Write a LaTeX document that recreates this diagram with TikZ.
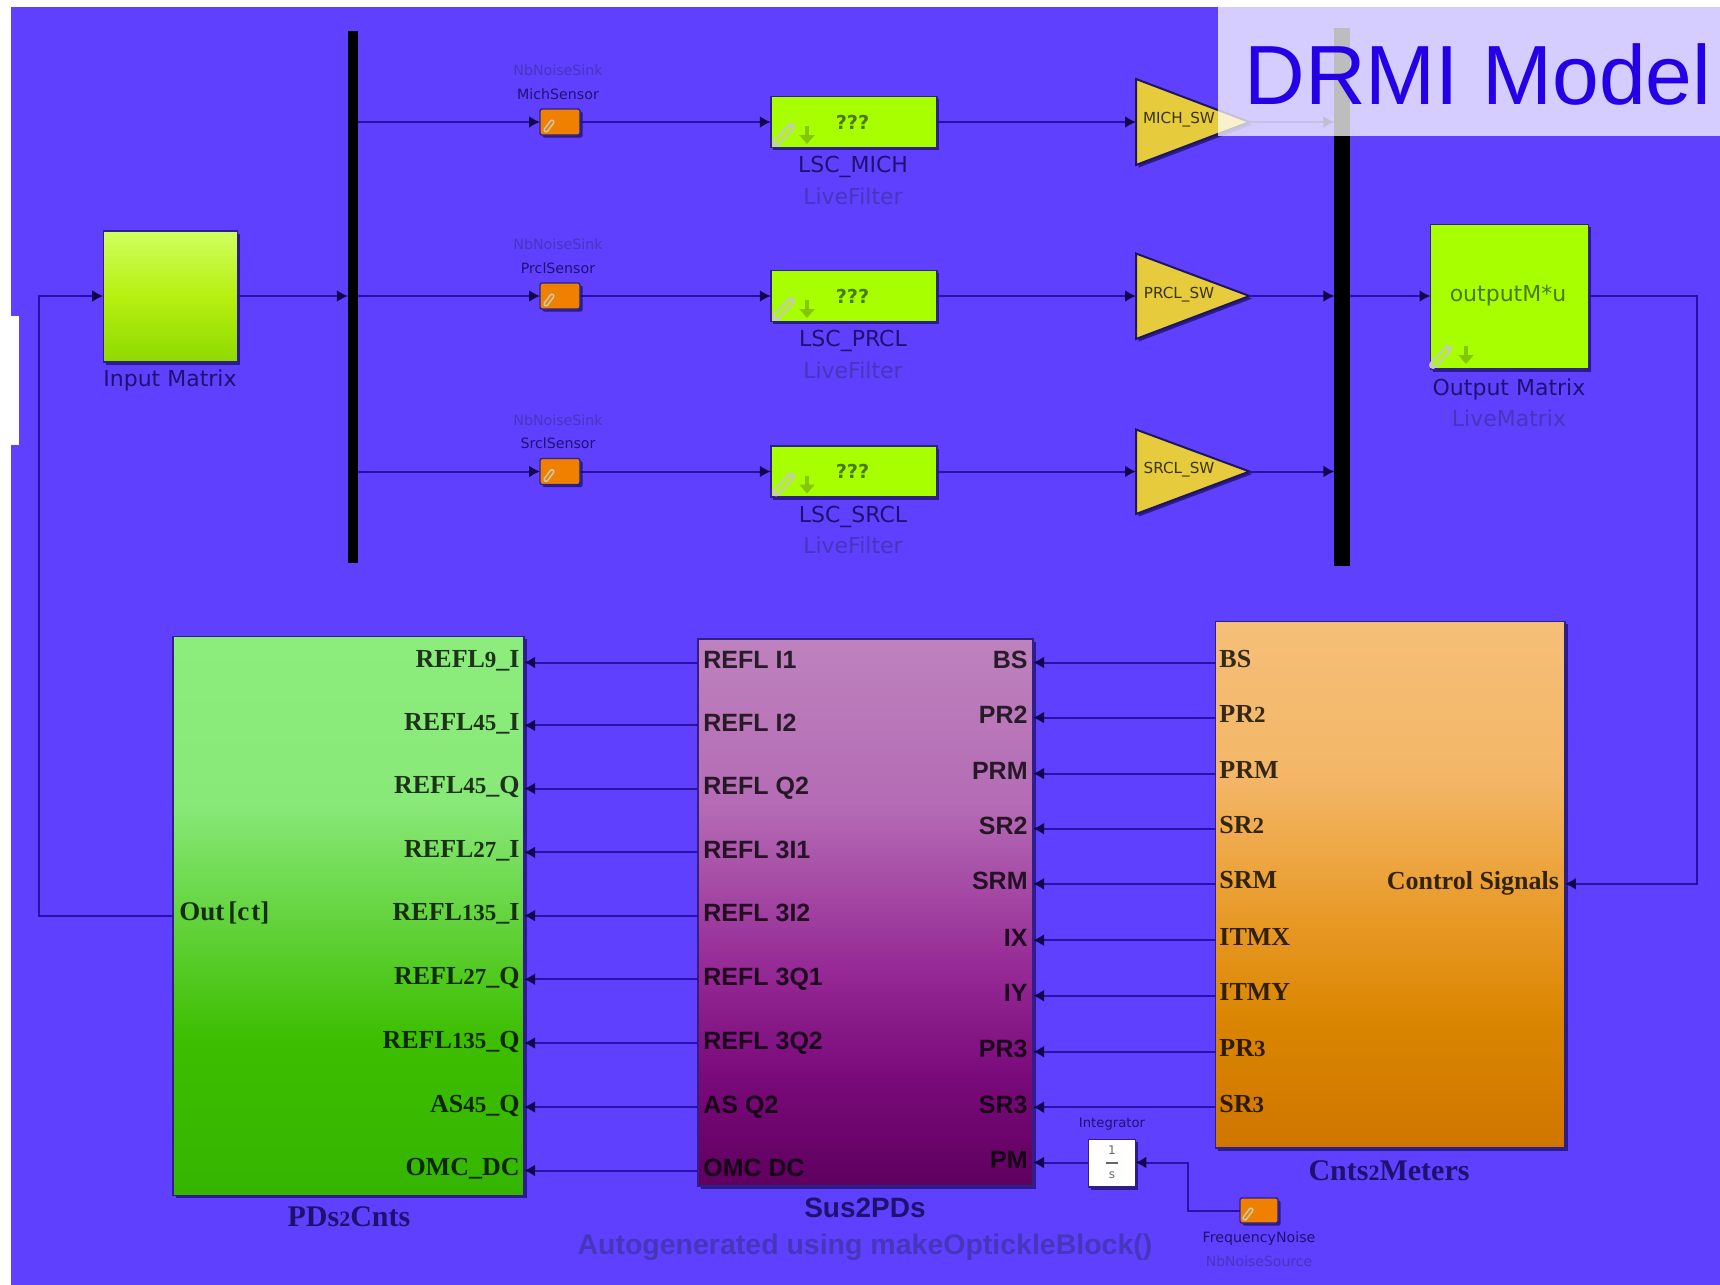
\documentclass[tikz,border=0pt]{standalone}
\usepackage{fontspec}
\usetikzlibrary{arrows.meta,shadows,calc}
\setmainfont{Liberation Serif}
\newfontfamily\djv{DejaVu Sans}
\newfontfamily\lsans{Liberation Sans}
\newcommand{\fsz}[1]{\fontsize{#1}{#1}\selectfont}
\newcommand{\od}[1]{{\fontsize{11.5}{11.5}\selectfont #1}}
\newcommand{\odb}[1]{{\fontsize{11}{11}\selectfont #1}}
\definecolor{bgblue}{HTML}{6040FF}
\definecolor{wire}{HTML}{2A10A4}
\definecolor{headc}{HTML}{120650}
\definecolor{edgec}{HTML}{2E2088}
\definecolor{limeb}{HTML}{A8FF00}
\definecolor{orangeb}{HTML}{F08000}
\definecolor{triy}{HTML}{E6CB3C}
\definecolor{olive}{HTML}{4A7A00}
\definecolor{dimtxt}{HTML}{4636BC}
\definecolor{navy}{HTML}{1E1270}
\definecolor{titleb}{HTML}{2400E6}
\definecolor{clipc}{HTML}{C6CCB4}
\definecolor{ga}{HTML}{35B500}\definecolor{gb}{HTML}{3DBE00}\definecolor{gc}{HTML}{88E878}\definecolor{gd}{HTML}{8CEC7C}
\definecolor{pa}{HTML}{5F005F}\definecolor{pb}{HTML}{7A0A7A}\definecolor{pc}{HTML}{962A96}\definecolor{pd}{HTML}{B46CB4}\definecolor{pe}{HTML}{BE82BE}
\definecolor{oa}{HTML}{CF7600}\definecolor{ob}{HTML}{DA8500}\definecolor{oc}{HTML}{E89A28}\definecolor{od}{HTML}{F3B666}\definecolor{oe}{HTML}{F5BF78}
\definecolor{ia}{HTML}{8FD900}\definecolor{ib}{HTML}{B6F010}\definecolor{ic}{HTML}{CFFF60}
\pgfdeclareverticalshading{greenS}{100bp}{color(0bp)=(ga);color(25bp)=(ga);color(39bp)=(gb);color(60bp)=(gc);color(75bp)=(gd);color(100bp)=(gd)}
\pgfdeclareverticalshading{purpleS}{100bp}{color(0bp)=(pa);color(25bp)=(pa);color(35bp)=(pb);color(45bp)=(pc);color(60bp)=(pd);color(75bp)=(pe);color(100bp)=(pe)}
\pgfdeclareverticalshading{orangeS}{100bp}{color(0bp)=(oa);color(25bp)=(oa);color(37bp)=(ob);color(47bp)=(oc);color(60bp)=(od);color(75bp)=(oe);color(100bp)=(oe)}
\pgfdeclareverticalshading{inputS}{100bp}{color(0bp)=(ia);color(25bp)=(ia);color(50bp)=(ib);color(75bp)=(ic);color(100bp)=(ic)}
\tikzset{
  x=0.5pt,y=-0.5pt,
  sh/.style={drop shadow={shadow xshift=1.3pt,shadow yshift=-1.3pt,fill=navy,opacity=.8}},
  blockb/.style={draw=edgec,line width=.7pt,inner sep=0pt,outer sep=0pt,sh},
  limeblock/.style={blockb,fill=limeb},
  orangebox/.style={blockb,fill=orangeb,rounded corners=1pt,minimum width=20pt,minimum height=13pt},
  busbar/.style={fill=black,inner sep=0pt,outer sep=0pt},
  w/.style={draw=wire,line width=1pt},
  wa/.style={w,-{Latex[length=5.5pt,width=6pt,color=headc]}},
  namelbl/.style={font=\djv\fsz{11},text=navy,inner sep=0pt},
  typelbl/.style={font=\djv\fsz{11},text=dimtxt,inner sep=0pt},
  tinyname/.style={font=\djv\fsz{7.1},text=navy,inner sep=0pt},
  tinytype/.style={font=\djv\fsz{7.1},text=dimtxt,inner sep=0pt},
  qq/.style={font=\djv\bfseries\fsz{9.6},text=olive,inner sep=0pt},
  swl/.style={font=\djv\fsz{7.6},text=black!75!triy,inner sep=0pt},
  tri/.style={draw=edgec!70!black,fill=triy,line width=1pt,sh},
  serifp/.style={font=\bfseries\fsz{13},text=black,text opacity=.78,inner sep=0pt},
  sansp/.style={font=\lsans\bfseries\fsz{12.5},text=black,text opacity=.78,inner sep=0pt},
  bigserif/.style={font=\bfseries\fsz{15},text=navy,inner sep=0pt},
}
\newcommand{\pclip}[3]{%
  \draw[line cap=round,line width=4pt,draw=clipc] (#1-8,#2+8) -- (#1+7,#2-8);
  \draw[line cap=round,line width=1.6pt,draw=#3] (#1-7,#2+7) -- (#1+6,#2-7);
}
\newcommand{\oclip}[2]{%
  \draw[line cap=round,line width=2.6pt,draw=clipc] (#1-3,#2+4) -- (#1+3,#2-4);
  \draw[line cap=round,line width=1pt,draw=orangeb] (#1-3,#2+4) -- (#1+3,#2-4);
}
\newcommand{\darr}[2]{%
  \draw[draw=limeb!78!black,line width=2pt,-{Triangle[length=4.5pt,width=7.5pt]}] (#1,#2) -- (#1,#2+18);
}
\begin{document}
\begin{tikzpicture}
\useasboundingbox (0,0) rectangle (1720,1285);
\fill[white] (0,0) rectangle (1720,1285);
\fill[bgblue] (11,7) rectangle (1720,1285);
\fill[white] (11,316) rectangle (19,445);

% row levels
\coordinate (r1) at (0,122);
\coordinate (r2) at (0,296);
\coordinate (r3) at (0,471.5);

% upper blocks
\node[busbar,minimum width=5.2pt,minimum height=266pt] (busa) at (353,297) {};
\node[busbar,minimum width=7.6pt,minimum height=269pt] (busb) at (1342,296.5) {};
\node[blockb,shading=inputS,minimum width=67pt,minimum height=65.5pt] (input) at (170.2,296.5) {};
\node[namelbl] (inputl) at (170,380) {Input Matrix};

\foreach \n/\y in {1/122,2/296,3/471.5}{
  \node[orangebox] (s\n) at (560,\y) {};
  \oclip{549}{\y+4}
}
\node[tinytype] (t1a) at (558,70) {NbNoiseSink};
\node[tinyname] (t1b) at (558,94) {MichSensor};
\node[tinytype] (t2a) at (558,244) {NbNoiseSink};
\node[tinyname] (t2b) at (558,268) {PrclSensor};
\node[tinytype] (t3a) at (558,420) {NbNoiseSink};
\node[tinyname] (t3b) at (558,443) {SrclSensor};

\foreach \n/\y/\nm in {1/122/LSC\_MICH,2/296/LSC\_PRCL,3/471.5/LSC\_SRCL}{
  \node[limeblock,minimum width=83pt,minimum height=25.5pt] (f\n) at (853.8,\y) {};
  \node[qq] (q\n) at (852.5,\y) {???};
  \pclip{784}{\y+13}{limeb}
  \darr{807}{\y+4}
  \node[namelbl] (fn\n) at (853,\y+45) {\nm};
  \node[typelbl] (ft\n) at (853,\y+74) {LiveFilter};
}

\coordinate (t1w) at (1136,122); \coordinate (t1e) at (1249.5,122);
\coordinate (t2w) at (1136,296); \coordinate (t2e) at (1249.5,296);
\coordinate (t3w) at (1136,471.5); \coordinate (t3e) at (1249.5,471.5);
\draw[tri] (1136,79) -- (t1e) -- (1136,165) -- cycle;
\draw[tri] (1136,253.5) -- (t2e) -- (1136,339) -- cycle;
\draw[tri] (1136,429.5) -- (t3e) -- (1136,514) -- cycle;
\node[swl] (sw1) at (1179,119.5) {MICH\_SW};
\node[swl] (sw2) at (1179,295) {PRCL\_SW};
\node[swl] (sw3) at (1179,470) {SRCL\_SW};

\node[limeblock,minimum width=79pt,minimum height=72.2pt] (output) at (1509.5,296.8) {};
\node[font=\djv\fsz{11},text=olive,inner sep=0pt] (outt) at (1508,296) {outputM*u};
\pclip{1441}{357}{limeb}
\darr{1466}{346}
\node[namelbl] (outl) at (1509,389) {Output Matrix};
\node[typelbl] (outk) at (1509,418) {LiveMatrix};

% upper wiring
\draw[wa] (input.east |- r2) -- (busa.west |- r2);
\draw[wa] (busa.east |- s1) -- (s1.west);
\draw[wa] (busa.east |- s2) -- (s2.west);
\draw[wa] (busa.east |- s3) -- (s3.west);
\draw[wa] (s1.east) -- (f1.west);
\draw[wa] (s2.east) -- (f2.west);
\draw[wa] (s3.east) -- (f3.west);
\draw[wa] (f1.east) -- (t1w);
\draw[wa] (f2.east) -- (t2w);
\draw[wa] (f3.east) -- (t3w);
\draw[wa] (t1e) -- (busb.west |- t1e);
\draw[wa] (t2e) -- (busb.west |- t2e);
\draw[wa] (t3e) -- (busb.west |- t3e);
\draw[wa] (busb.east |- r2) -- (output.west |- r2);

% lower blocks
\node[blockb,shading=greenS,minimum width=175.5pt,minimum height=279.3pt] (pds) at (348.6,916) {};
\node[blockb,shading=purpleS,minimum width=167.5pt,minimum height=273.5pt] (sus) at (865.5,912.5) {};
\node[blockb,shading=orangeS,minimum width=174.7pt,minimum height=263.2pt] (cnt) at (1390.2,884.8) {};
\node[bigserif] (pdsl) at (349,1217) {PDs\odb{2}Cnts};
\node[bigserif] (cntl) at (1389,1171) {Cnts\odb{2}Meters};
\node[font=\lsans\bfseries\fsz{14},text=navy,inner sep=0pt] (susl) at (865,1208) {Sus2PDs};
\node[font=\lsans\bfseries\fsz{14.25},text=dimtxt,inner sep=0pt] (susk) at (865,1247) {Autogenerated using makeOptickleBlock()};

\foreach \n/\y/\pl/\sl in {
 1/662.5/{REFL\od{9}\_I}/{REFL I1},
 2/725.4/{REFL\od{45}\_I}/{REFL I2},
 3/788.6/{REFL\od{45}\_Q}/{REFL Q2},
 4/852.4/{REFL\od{27}\_I}/{REFL 3I1},
 5/915.6/{REFL\od{135}\_I}/{REFL 3I2},
 6/979.3/{REFL\od{27}\_Q}/{REFL 3Q1},
 7/1043/{REFL\od{135}\_Q}/{REFL 3Q2},
 8/1107/{AS\od{45}\_Q}/{AS Q2},
 9/1170.5/{OMC\_DC}/{OMC DC}}{
  \coordinate (a\n) at (0,\y);
  \node[serifp,anchor=base east] (pp\n) at (520,\y+5) {\pl};
  \node[sansp,anchor=base west] (sp\n) at (703,\y+6) {\sl};
  \draw[wa] (sus.west |- a\n) -- (pds.east |- a\n);
}
\foreach \n/\y/\sl/\cl in {
 1/662.5/BS/BS,
 2/717.6/PR2/{PR\od{2}},
 3/773.6/PRM/PRM,
 4/828.7/SR2/{SR\od{2}},
 5/883.8/SRM/SRM,
 6/940.2/IX/ITMX,
 7/995.7/IY/ITMY,
 8/1051.7/PR3/{PR\od{3}},
 9/1107.2/SR3/{SR\od{3}}}{
  \coordinate (b\n) at (0,\y);
  \node[sansp,anchor=base east] (sq\n) at (1028,\y+6) {\sl};
  \node[serifp,anchor=base west] (cp\n) at (1219,\y+5) {\cl};
  \draw[wa] (cnt.west |- b\n) -- (sus.east |- b\n);
}
\coordinate (b10) at (0,1162.5);
\node[sansp,anchor=base east] (sq10) at (1028,1168.5) {PM};
\node[font=\bfseries\fsz{13},text=black,text opacity=.78,inner sep=0pt,anchor=base east] (ctrl) at (1559.4,889) {Control Signals};
\node[font=\bfseries\fsz{13.5},text=black,text opacity=.78,inner sep=0pt,anchor=base west] (outct) at (179,920) {Out\hspace{2pt}[c\hspace{1pt}t]};

% integrator + noise source
\node[draw=edgec,fill=white,line width=.7pt,inner sep=0pt,outer sep=0pt,sh,minimum width=23.3pt,minimum height=23.7pt] (integ) at (1112,1163.2) {};
\node[font=\djv\fsz{6},text=black!60,inner sep=0pt] (one) at (1112,1150) {1};
\node[font=\djv\fsz{6},text=black!60,inner sep=0pt] (ess) at (1112,1175) {s};
\draw[black!60,line width=.7pt] (1106,1163) -- (1118,1163);
\node[tinyname,font=\djv\fsz{6.6}] (integl) at (1112,1124) {Integrator};
\node[orangebox,minimum width=19pt,minimum height=12.5pt] (fn) at (1259,1210.5) {};
\oclip{1248}{1214}
\node[tinyname,font=\djv\fsz{7.1}] (fnl) at (1259,1238.5) {FrequencyNoise};
\node[tinytype,font=\djv\fsz{7}] (fnt) at (1259,1261) {NbNoiseSource};

% lower wiring
\draw[wa] (integ.west |- b10) -- (sus.east |- b10);
\coordinate (fnk) at (1188,1162.5);
\draw[wa] (fn.west) -| (fnk) -- (integ.east |- fnk);
\coordinate (rr) at (1696.5,296);
\draw[wa] (output.east |- rr) -- (rr) |- (cnt.east |- b5);
\coordinate (ll) at (38.5,296);
\draw[wa] (pds.west |- a5) -| (ll) -- (input.west |- ll);

% title overlay
\fill[white,opacity=.74] (1217.6,7) rectangle (1720,136);
\node[font=\lsans\fsz{42},text=titleb,inner sep=0pt,anchor=base] (title) at (1478,104) {DRMI Model};
\end{tikzpicture}
\end{document}
